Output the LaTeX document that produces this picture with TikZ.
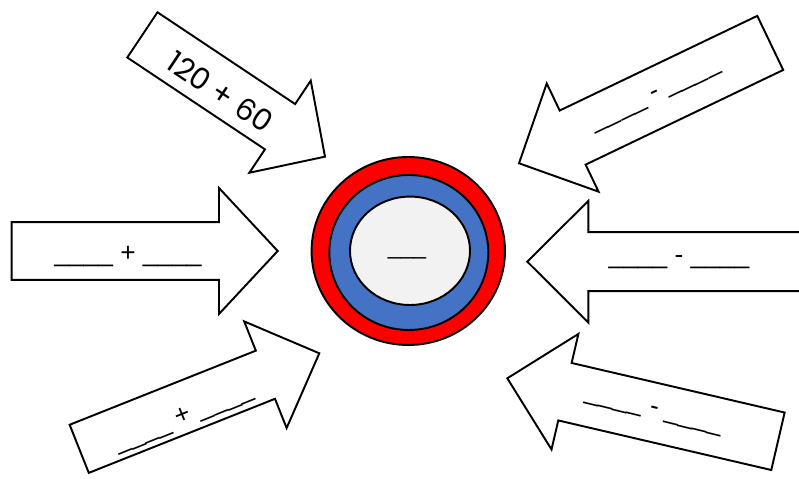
\documentclass[tikz,border=0pt]{standalone}
\usepackage{fontspec}
\setmainfont{Poppins}
\newfontfamily\strichschrift{Liberation Sans}
\usepackage{tikz}

\definecolor{ringblau}{HTML}{4472C4}
\definecolor{kerngrau}{HTML}{F2F2F2}

\begin{document}
\begin{tikzpicture}[x=0.02cm, y=0.02cm,
		pfeil/.style={draw=black, fill=white, line width=1.1pt, line join=miter},
		ring/.style={draw=black, line width=1.1pt},
		lueckentext/.style={font=\strichschrift\fontsize{15}{18}\selectfont, anchor=base, inner sep=0pt}]
			% Rahmen
			\useasboundingbox (0,0) rectangle (799,479);
			\clip (0,0) rectangle (799,479);
			
			% Pfeile: Spitze x/y, Winkel, Laenge, halbe Schaftbreite, halbe Kopfbreite, Kopflaenge
			\foreach \x/\y/\w/\l/\s/\h/\k in {325/322.3/-33.7/219.5/27.2/55.3/54,
				277.7/228/0/266/28.9/63/58.7,
				319.3/125.7/21.7/258.4/25.9/57.4/58,
				519/315.7/205.6/278.6/30/60/59.5,
				527.3/217.3/180/290/29.5/60.8/61,
				507.3/100.7/166.9/277.9/29.5/59.3/59.2} {
				\draw[pfeil, shift={(\x,\y)}, rotate=\w] (0,0) -- (-\k,\h) -- (-\k,\s) -- (-\l,\s)
					-- (-\l,-\s) -- (-\k,-\s) -- (-\k,-\h) -- cycle;
			}
			
			% Ringe
			\draw[ring, fill=red] (408.3,228) ellipse [x radius=96.7, y radius=94];
			\draw[ring, fill=ringblau] (408.8,226.5) ellipse [x radius=79.5, y radius=77.5];
			\draw[ring, fill=kerngrau] (410,228.2) ellipse [x radius=60, y radius=54.2];
			
			% Beschriftung
			\node[anchor=center, font=\fontsize{17}{20}\selectfont, rotate=-33.7] (summe) at (220,387) {120 + 60};
			\node[lueckentext] (plus links) at (128,217) {\_\_\_\_\ + \_\_\_\_};
			\node[lueckentext, rotate=22] (plus unten) at (186,56) {\_\_\_\_\ + \_\_\_\_};
			\node[lueckentext, rotate=25.7] (minus oben) at (657,380) {\_\_\_\_\ - \_\_\_\_};
			\node[lueckentext] (minus rechts) at (679,215) {\_\_\_\_\ - \_\_\_\_};
			\node[lueckentext, rotate=-13.8] (minus unten) at (653,64) {\_\_\_\_\ - \_\_\_\_};
			\node[lueckentext, font=\strichschrift\fontsize{13}{16}\selectfont] (kern) at (407,224) {\_\_\_};
		\end{tikzpicture}
\end{document}
